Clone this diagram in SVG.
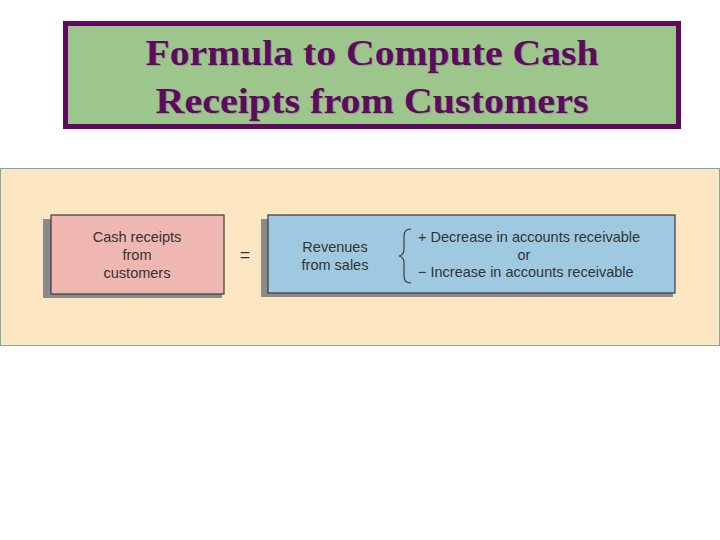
<svg xmlns="http://www.w3.org/2000/svg" width="720" height="540" viewBox="0 0 720 540">
<style>
.title{font-family:"Liberation Serif",serif;font-weight:bold;font-size:36px;fill:#5e0a5e;text-anchor:middle}
.shd{font-family:"Liberation Serif",serif;font-weight:bold;font-size:36px;fill:#7a6a7a;text-anchor:middle;opacity:0.45}
.t{font-family:"Liberation Sans",sans-serif;font-size:14.5px;fill:#333}
.c{text-anchor:middle}
.shadow{fill:#8a8a8a}
.box{stroke:#3a3a3a;stroke-width:1.2}
</style>
<rect width="720" height="540" fill="#ffffff"/>
<g id="title">
<rect x="65.5" y="23.5" width="613" height="103" fill="#9cc68c" stroke="#5e0a5e" stroke-width="5"/>
<text class="shd" x="373" y="66" textLength="453" lengthAdjust="spacingAndGlyphs">Formula to Compute Cash</text>
<text class="shd" x="373" y="114" textLength="433" lengthAdjust="spacingAndGlyphs">Receipts from Customers</text>
<text class="title" x="372" y="65" textLength="453" lengthAdjust="spacingAndGlyphs">Formula to Compute Cash</text>
<text class="title" x="372" y="113" textLength="433" lengthAdjust="spacingAndGlyphs">Receipts from Customers</text>
</g>
<g id="panel">
<rect x="0.5" y="168.5" width="719" height="177" fill="#fde6c2" stroke="#7da8a0" stroke-width="1"/>
</g>
<g id="cash">
<rect class="shadow" x="43" y="219" width="179" height="79"/>
<rect class="box" x="51" y="215" width="173" height="79" fill="#efb6b2"/>
<text class="t c" x="137" y="242">Cash receipts</text>
<text class="t c" x="137" y="260">from</text>
<text class="t c" x="137" y="278">customers</text>
</g>
<g id="equals">
<text class="t c" x="245" y="261" style="font-size:18px">=</text>
</g>
<g id="revenues">
<rect class="shadow" x="261" y="219" width="412" height="78"/>
<rect class="box" x="268" y="215" width="407" height="78" fill="#9fc9e1"/>
<text class="t c" x="335" y="252">Revenues</text>
<text class="t c" x="335" y="270">from sales</text>
<path d="M411,229 Q404,229 404,236 L404,249 Q404,255 399,256 Q404,257 404,263 L404,276 Q404,283 411,283" fill="none" stroke="#333" stroke-width="1.1"/>
<text class="t" x="418" y="242">+ Decrease in accounts receivable</text>
<text class="t c" x="524" y="260">or</text>
<text class="t" x="418" y="277">− Increase in accounts receivable</text>
</g>
</svg>
